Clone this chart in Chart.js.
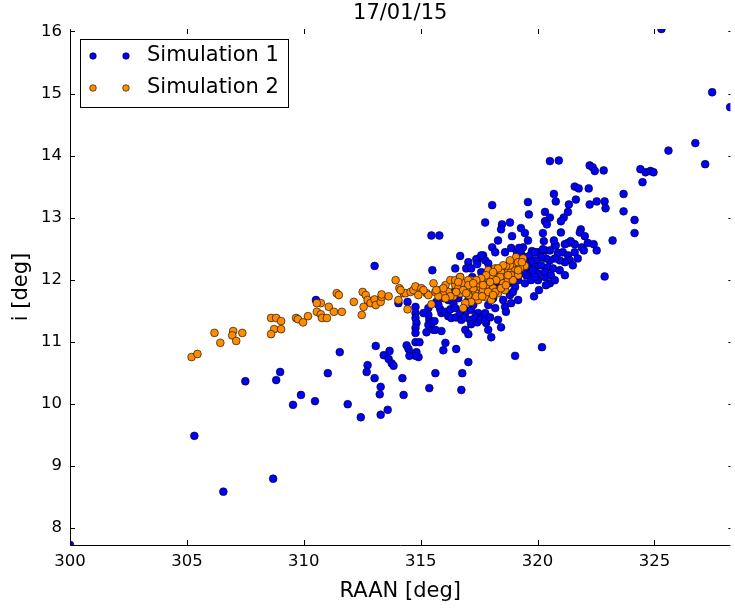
<!DOCTYPE html>
<html>
<head>
<meta charset="utf-8">
<script src="https://cdn.jsdelivr.net/npm/chart.js@4.4.1/dist/chart.umd.min.js"></script>
<style>
  html, body { margin: 0; padding: 0; background: #fff; }
  #wrap { width: 735px; height: 608px; }
</style>
</head>
<body>
<div id="wrap"><canvas id="orbitChart" width="735" height="608"></canvas></div>
<script>
const chartTitle = "17/01/15";
const xLabel = "RAAN [deg]";
const yLabel = "i [deg]";
const seriesNames = ["Simulation 1", "Simulation 2"];
const seriesColors = ["#0000ff", "#ff8c00"];
const xTicks = [300, 305, 310, 315, 320, 325];
const yTicks = [8, 9, 10, 11, 12, 13, 14, 15, 16];
const xRange = [300, 328.25];
const yRange = [7.72, 16.04];

// [RAAN, i]
const sim1 = [
  [325.3,16.04],[327.47,15.02],[328.24,14.78],[325.6,14.08],[326.75,14.2],[327.17,13.86],
  [324.4,13.78],[324.62,13.73],[324.83,13.75],[324.96,13.73],[324.49,13.57],[323.68,13.38],
  [323.68,13.1],[324.15,12.96],[324.15,12.75],[323.21,12.63],[322.53,12.47],[322.87,12.05],
  [320.53,13.91],[320.91,13.92],[322.23,13.84],[322.36,13.81],[322.45,13.75],[322.83,13.76],
  [321.59,13.5],[321.76,13.47],[322.19,13.47],[320.7,13.38],[320.78,13.26],[321.64,13.29],
  [322.23,13.21],[322.53,13.26],[322.87,13.26],[322.91,13.15],[319.59,13.25],[319.63,13.05],
  [321.34,13.21],[321.3,13.09],[321.12,13.0],[321.0,12.94],[320.32,13.09],[320.53,13.0],
  [320.32,12.94],[320.4,12.89],[318.06,13.2],[317.76,12.92],[318.48,12.89],[318.44,12.81],
  [318.82,12.92],[319.29,12.83],[319.46,12.75],[320.23,12.75],[320.27,12.62],[321.85,12.81],
  [321.81,12.76],[322.02,12.7],[321.3,12.59],[321.59,12.57],[321.42,12.62],[321.17,12.57],
  [321.89,12.52],[320.74,12.55],[318.06,12.52],[318.19,12.44],[315.46,12.71],[315.8,12.71],
  [316.69,12.38],[317.67,12.39],[317.46,12.33],[317.76,12.31],[317.04,12.28],[316.95,12.18],
  [316.48,12.18],[315.5,12.15],[317.21,12.04],[318.61,12.44],[318.87,12.51],[319.12,12.44],
  [319.38,12.52],[319.21,12.51],[319.76,12.46],[320.02,12.44],[320.32,12.47],[320.53,12.47],
  [313.03,12.22],[310.52,11.67],[314.05,11.62],[314.44,11.64],[314.78,11.56],[314.78,11.46],
  [314.78,11.38],[314.82,11.3],[314.78,11.22],[314.78,11.14],[315.33,11.54],[315.37,11.35],
  [315.33,11.27],[315.46,11.3],[315.59,11.33],[315.55,11.19],[315.25,11.15],[315.63,11.19],
  [315.89,11.17],[315.89,11.46],[315.84,11.52],[316.06,11.48],[316.18,11.41],[316.27,11.52],
  [316.4,11.62],[316.48,11.54],[316.31,11.38],[316.52,11.39],[316.69,11.46],[316.74,11.35],
  [316.91,11.39],[317.12,11.35],[317.16,11.28],[317.38,11.38],[317.46,11.46],[317.59,11.38],
  [317.76,11.46],[316.95,11.49],[317.25,11.59],[317.04,11.67],[316.61,11.7],[316.31,11.72],
  [316.18,11.67],[316.4,11.78],[316.48,11.83],[316.61,11.88],[316.91,11.19],[317.04,11.12],
  [316.06,10.98],[315.97,10.86],[316.52,10.88],[314.4,10.94],[314.78,10.99],[314.95,10.99],
  [314.48,10.88],[314.57,10.81],[314.82,10.83],[314.91,10.75],[314.78,10.77],[314.52,10.77],
  [317.8,11.3],[317.42,11.31],[317.89,11.19],[318.02,11.07],[318.31,11.35],[318.44,11.23],
  [318.61,11.56],[318.87,11.62],[319.17,11.67],[319.04,11.88],[319.46,11.94],[319.72,11.99],
  [320.02,11.99],[320.32,12.04],[317.16,11.51],[317.33,11.39],[317.55,11.35],[317.76,11.35],
  [317.97,11.39],[316.78,10.49],[315.63,10.49],[315.37,10.25],[316.74,10.22],[317.04,10.67],
  [314.22,10.41],[314.27,10.14],[313.42,10.78],[313.67,10.85],[313.63,10.72],[313.76,10.65],
  [313.84,10.61],[313.29,10.27],[313.25,10.15],[313.29,9.82],[313.59,9.9],[312.73,10.62],
  [312.69,10.51],[313.03,10.41],[313.08,10.93],[312.44,9.78],[311.88,9.99],[311.54,10.83],
  [311.03,10.49],[310.48,10.04],[309.54,9.98],[309.88,10.14],[308.82,10.38],[308.99,10.51],
  [307.5,10.36],[305.32,9.48],[306.56,8.58],[308.69,8.79],[300.0,7.72],[319.04,10.77],
  [320.19,10.91],[320.53,11.94],[320.06,11.83],[319.85,11.73],[319.29,12.43],[319.46,12.36],
  [319.68,12.39],[319.89,12.44],[320.23,12.49],[320.78,12.55],[320.87,12.43],[321.08,12.44],
  [321.3,12.39],[321.38,12.31],[321.17,12.28],[320.95,12.31],[320.74,12.34],[320.53,12.31],
  [320.36,12.34],[320.15,12.36],[319.93,12.31],[319.72,12.28],[319.46,12.28],[319.59,12.2],
  [319.89,12.2],[320.15,12.23],[320.44,12.2],[320.66,12.18],[320.32,12.12],[320.02,12.1],
  [319.72,12.12],[319.51,12.07],[320.57,12.07],[319.89,12.04],[319.38,12.12],[319.8,12.15],
  [319.17,11.99],[320.74,11.99],[317.89,12.26],[317.97,12.15],[318.02,12.07],[317.38,12.33],
  [317.59,12.39],[317.42,12.25],[317.16,12.18],[316.69,12.04],[317.59,12.12],[318.65,11.48],
  [318.82,11.75],[318.31,11.83],[318.53,11.67],[318.1,11.7],[317.89,11.59],[318.19,11.54],
  [315.33,11.43],[315.12,11.46],[315.67,11.64],[315.97,11.7],[315.76,11.59],[318.74,11.94],
  [318.95,11.8],[319.17,12.12],[318.82,12.02],[318.44,11.94],[318.23,11.96],[321.59,12.44],
  [321.98,12.47],[321.72,12.34],[320.95,12.15],[321.51,12.23],[321.17,12.07],[320.36,11.91],
  [322.15,12.59],[322.4,12.57],[320.7,12.63],[321.0,12.76],[319.59,12.63],[318.91,12.7],
  [318.31,12.63]
];

const sim2 = [
  [305.2,10.75],[305.45,10.8],[306.18,11.14],[306.43,10.98],[306.98,11.17],[306.94,11.1],
  [307.11,11.01],[307.37,11.14],[308.6,11.38],[308.82,11.38],[309.03,11.33],[308.73,11.2],
  [309.03,11.2],[308.6,11.12],[309.67,11.38],[309.75,11.36],[309.97,11.31],[310.18,11.41],
  [310.56,11.48],[310.73,11.44],[310.78,11.38],[310.99,11.38],[311.07,11.56],[311.29,11.48],
  [311.63,11.48],[310.73,11.62],[310.56,11.62],[311.41,11.78],[311.5,11.75],[312.14,11.64],
  [312.48,11.43],[312.56,11.56],[312.52,11.8],[312.65,11.75],[312.73,11.67],[312.86,11.62],
  [313.03,11.68],[313.08,11.59],[313.29,11.64],[313.33,11.72],[313.33,11.76],[313.63,11.73],
  [313.93,11.99],[314.09,11.86],[314.27,11.78],[314.35,11.78],[314.05,11.67],[314.44,11.52],
  [314.14,11.83],[314.57,11.8],[314.69,11.83],[314.78,11.89],[315.03,11.86],[315.25,11.78],
  [315.55,11.94],[315.63,11.8],[315.84,11.83],[316.06,11.91],[316.27,11.99],[316.48,11.91],
  [316.61,11.86],[316.82,11.94],[316.91,11.83],[317.04,11.88],[317.16,11.99],[317.33,11.8],
  [317.55,11.88],[317.67,11.96],[317.89,12.02],[318.02,12.07],[318.31,12.1],[318.44,12.02],
  [318.61,12.1],[318.74,12.15],[318.87,12.12],[319.04,12.18],[319.08,12.36],[319.46,12.22],
  [317.76,11.72],[318.02,11.67],[318.31,11.78],[318.61,11.83],[317.46,11.67],[317.16,11.64],
  [316.91,11.62],[316.82,11.54],[315.46,11.6],[319.25,12.18],[318.44,12.12],[318.87,12.07],
  [318.61,12.04],[318.4,12.04],[318.19,12.18],[316.4,11.73],[316.69,11.78],[317.04,11.75],
  [317.25,11.86],[317.46,11.94],[317.8,11.91],[318.1,11.86],[318.23,11.99],[318.53,11.94],
  [318.74,11.99],[318.95,12.26],[319.17,12.28],[317.67,11.83],[317.38,11.73],[317.97,11.96],
  [318.19,11.8],[316.18,11.8],[315.97,11.75],[316.48,11.99],[316.69,12.04],[317.89,12.15],
  [319.38,12.34],[318.82,12.23],[318.65,12.22],[319.17,12.07],[317.04,11.99],[315.76,11.73],
  [318.82,12.31],[318.53,12.23],[318.31,12.18],[318.1,12.12],[317.8,12.07],[317.59,12.02],
  [317.38,11.99],[317.04,11.91],[316.82,11.83],[316.52,11.8],[316.27,11.73],[316.06,11.7],
  [317.89,11.8],[317.63,11.73],[318.1,11.75],[318.44,11.86],[318.65,11.91],[318.95,11.99],
  [319.17,12.15],[319.33,12.28],[318.74,12.07],[317.67,11.91],[317.25,11.94],[316.95,11.78],
  [316.61,11.96],[315.97,11.86],[315.67,11.83],[315.33,11.75],[315.12,11.83],[314.9,11.75]
];

const FONT = "'DejaVu Sans', sans-serif";
const MARK_R = 3.9;

// left/bottom spines plus inward ticks on all four sides
const frameTicks = {
  id: "frameTicks",
  afterDatasetsDraw(chart) {
    const { ctx, chartArea: a, scales } = chart;
    ctx.save();
    ctx.strokeStyle = "#000";
    ctx.lineWidth = 1;
    ctx.beginPath();
    xTicks.forEach(v => {
      const px = Math.round(scales.x.getPixelForValue(v)) + 0.5;
      ctx.moveTo(px, a.bottom); ctx.lineTo(px, a.bottom - 5);
      ctx.moveTo(px, a.top); ctx.lineTo(px, a.top + 5);
    });
    yTicks.forEach(v => {
      const py = Math.round(scales.y.getPixelForValue(v)) + 0.5;
      ctx.moveTo(a.left, py); ctx.lineTo(a.left + 5, py);
      ctx.moveTo(a.right, py); ctx.lineTo(a.right - 2, py);
    });
    ctx.moveTo(a.left + 0.5, a.top);
    ctx.lineTo(a.left + 0.5, a.bottom + 0.5);
    ctx.lineTo(a.right, a.bottom + 0.5);
    ctx.stroke();
    ctx.restore();
  }
};

// legend box in the upper left corner, two markers per entry
const legendBox = {
  id: "legendBox",
  afterDraw(chart) {
    const { ctx, chartArea: a } = chart;
    const x0 = a.left + 10, y0 = a.top + 10;
    ctx.save();
    ctx.fillStyle = "#fff";
    ctx.strokeStyle = "#000";
    ctx.lineWidth = 1;
    ctx.fillRect(x0 + 0.5, y0 + 0.5, 208, 68);
    ctx.strokeRect(x0 + 0.5, y0 + 0.5, 208, 68);
    ctx.font = "21px " + FONT;
    ctx.textBaseline = "middle";
    chart.data.datasets.forEach((ds, i) => {
      const cy = y0 + 17 + i * 32;
      [x0 + 13, x0 + 46].forEach(cx => {
        ctx.beginPath();
        ctx.arc(cx, cy, MARK_R - 0.6, 0, Math.PI * 2);
        ctx.fillStyle = ds.backgroundColor;
        ctx.fill();
        ctx.lineWidth = 0.6;
        ctx.strokeStyle = "#000";
        ctx.stroke();
      });
      ctx.fillStyle = "#000";
      ctx.fillText(ds.label, x0 + 67, cy);
    });
    ctx.restore();
  }
};

const titleText = {
  id: "titleText",
  afterDraw(chart) {
    const { ctx, chartArea: a } = chart;
    ctx.save();
    ctx.font = "21px " + FONT;
    ctx.fillStyle = "#000";
    ctx.textAlign = "center";
    ctx.textBaseline = "middle";
    ctx.fillText(chartTitle, (a.left + a.right) / 2, 14);
    ctx.restore();
  }
};

function makeDataset(i, points, order) {
  return {
    label: seriesNames[i],
    data: points.map(p => ({ x: p[0], y: p[1] })),
    backgroundColor: seriesColors[i],
    borderColor: "#000",
    borderWidth: 0.6,
    pointRadius: MARK_R,
    order: order,
    clip: 0
  };
}

const ctx = document.getElementById("orbitChart").getContext("2d");

new Chart(ctx, {
  type: "scatter",
  data: {
    datasets: [makeDataset(0, sim1, 2), makeDataset(1, sim2, 1)]
  },
  options: {
    responsive: false,
    animation: false,
    events: [],
    devicePixelRatio: 1,
    layout: { padding: { top: 29, left: 0, right: 0, bottom: 0 } },
    plugins: {
      legend: { display: false },
      title: { display: false },
      tooltip: { enabled: false }
    },
    scales: {
      x: {
        type: "linear",
        min: xRange[0],
        max: xRange[1],
        afterBuildTicks: s => { s.ticks = xTicks.map(v => ({ value: v })); },
        afterFit: s => { s.height = 63; },
        grid: { display: false, drawTicks: false },
        border: { display: false },
        ticks: { color: "#000", font: { family: FONT, size: 16.5 }, padding: 7, maxRotation: 0, autoSkip: false },
        title: { display: true, text: xLabel, color: "#000", font: { family: FONT, size: 21 }, padding: { top: 0, bottom: 4 } }
      },
      y: {
        type: "linear",
        min: yRange[0],
        max: yRange[1],
        afterBuildTicks: s => { s.ticks = yTicks.map(v => ({ value: v })); },
        afterFit: s => { s.width = 70; },
        grid: { display: false, drawTicks: false },
        border: { display: false },
        ticks: { color: "#000", font: { family: FONT, size: 16.5 }, padding: 8, autoSkip: false },
        title: { display: true, text: yLabel, color: "#000", font: { family: FONT, size: 21 }, padding: { top: 9, bottom: 0 } }
      }
    }
  },
  plugins: [frameTicks, legendBox, titleText]
});
</script>
</body>
</html>
